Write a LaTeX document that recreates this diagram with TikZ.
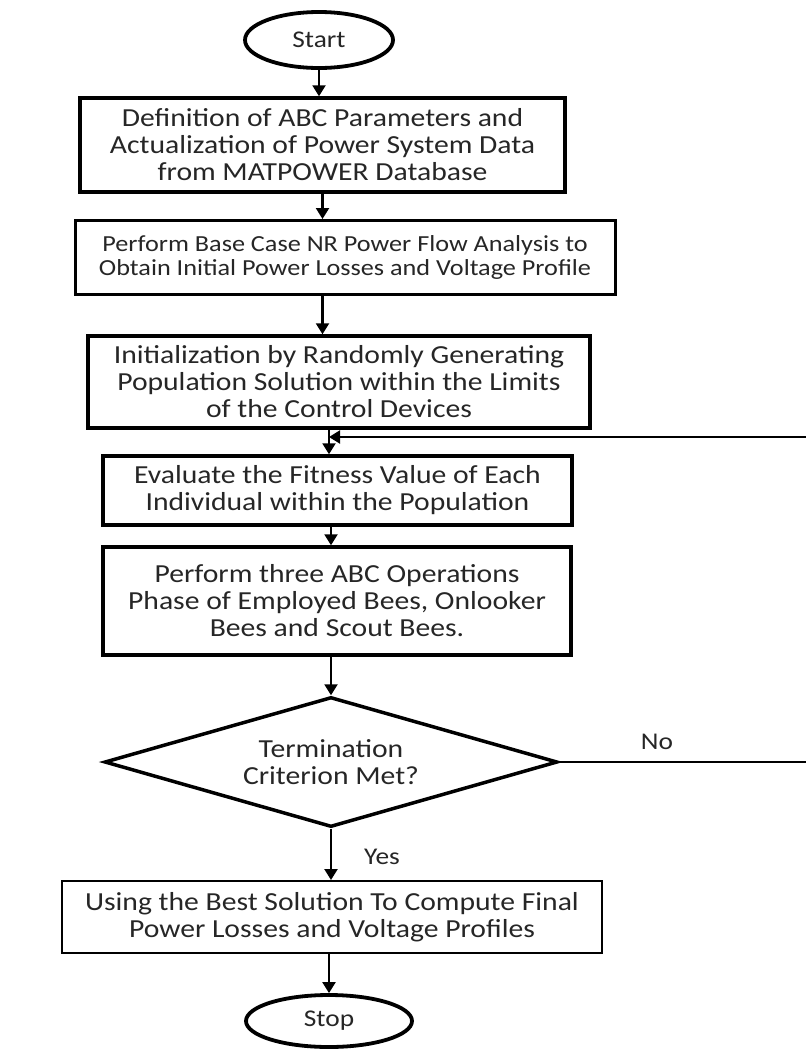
\documentclass[tikz,border=0pt]{standalone}
\usepackage{fontspec}
\setmainfont{Carlito}[FakeStretch=1.14]
\usetikzlibrary{shapes.geometric,arrows.meta,calc}
\begin{document}
\begin{tikzpicture}[x=1pt,y=-1pt,
  box/.style={draw,rectangle,line width=3.5pt,inner sep=0pt,align=center,
    font=\fontsize{26}{27}\selectfont,text=black!85},
  oval/.style={draw,ellipse,line width=3.8pt,inner sep=0pt,
    font=\fontsize{24}{26}\selectfont,text=black!85},
  decision/.style={draw,diamond,aspect=3.48,line width=3.5pt,inner sep=0pt,align=center,
    font=\fontsize{26}{27}\selectfont,text=black!85},
  arr/.style={line width=2.2pt,-{Triangle[width=13pt,length=11pt]}},
  lbl/.style={font=\fontsize{24}{26}\selectfont,text=black!85}]
\useasboundingbox (0,0) rectangle (806,1053);
\clip (0,0) rectangle (806,1053);

\node[oval,minimum width=148pt,minimum height=56pt] (start) at (319,40) {Start};
\node[box,minimum width=485pt,minimum height=94pt] (b1) at (322.5,145)
  {Definition of ABC Parameters and\\Actualization of Power System Data\\from MATPOWER Database};
\node[box,line width=3pt,minimum width=540pt,minimum height=74pt,
  font=\fontsize{23}{24}\selectfont] (b2) at (345,257.5)
  {Perform Base Case NR Power Flow Analysis to\\Obtain Initial Power Losses and Voltage Profile};
\node[box,minimum width=502pt,minimum height=92pt] (b3) at (339,382)
  {Initialization by Randomly Generating\\Population Solution within the Limits\\of the Control Devices};
\node[box,minimum width=469pt,minimum height=69pt] (b4) at (337.5,490.5)
  {Evaluate the Fitness Value of Each\\Individual within the Population};
\node[box,minimum width=468pt,minimum height=108pt] (b5) at (337,601)
  {Perform three ABC Operations\\Phase of Employed Bees, Onlooker\\Bees and Scout Bees.};
\node[decision,minimum width=453pt,minimum height=130pt] (dia) at (331,762)
  {Termination\\Criterion Met?};
\node[box,line width=2pt,minimum width=540pt,minimum height=72pt] (b6) at (332,917)
  {Using the Best Solution To Compute Final\\Power Losses and Voltage Profiles};
\node[oval,minimum width=166pt,minimum height=52pt] (stop) at (329,1021) {Stop};

\node[lbl] (yes) at (382,857) {Yes};
\node[lbl] (no) at (657,742) {No};

\draw[arr] (start.south) -- (start.south |- b1.north);
\draw[arr] (b1.south) -- (b1.south |- b2.north);
\draw[arr] (b1.south |- b2.south) -- (b1.south |- b3.north);
\draw[arr] (stop.north |- b3.south) -- (stop.north |- b4.north);
\draw[arr] (dia.north |- b4.south) -- (dia.north |- b5.north);
\draw[arr] (dia.north |- b5.south) -- (dia.north);
\draw[arr] (dia.south) -- (dia.south |- b6.north);
\draw[arr] (stop.north |- b6.south) -- (stop.north);

\coordinate (r1) at (815,762);
\coordinate (r2) at (815,437);
\draw[line width=2pt,-{Triangle[width=13pt,length=11pt]}]
  (dia.east) -- (r1) -- (r2) -- (stop.north |- r2);
\end{tikzpicture}
\end{document}
